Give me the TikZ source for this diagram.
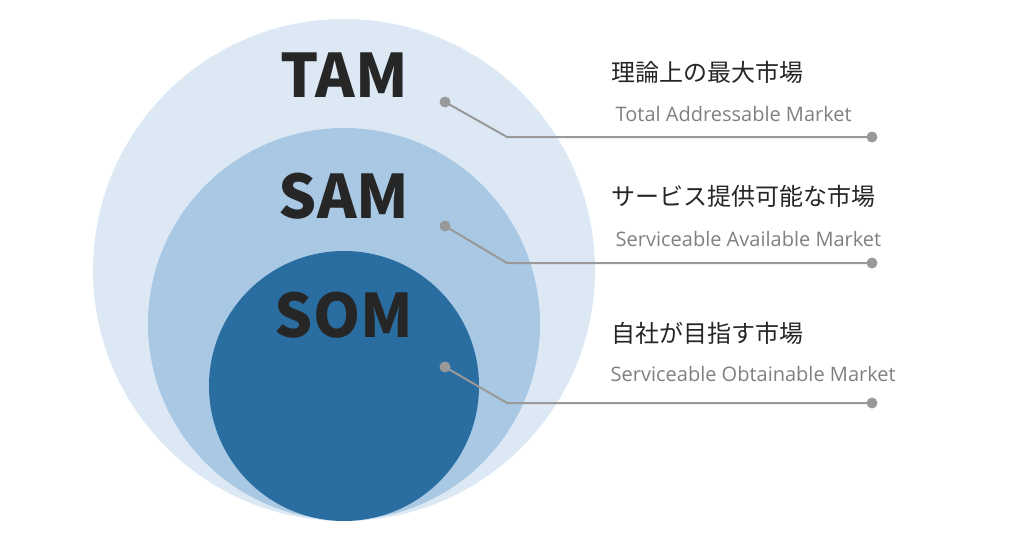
\documentclass[tikz,border=0pt]{standalone}
\usepackage{fontspec}
\setmainfont{Noto Sans CJK JP}
\newfontfamily\latinfont{Open Sans}
\definecolor{tamblue}{HTML}{DCE9F5}
\definecolor{samblue}{HTML}{A9C8E3}
\definecolor{somblue}{HTML}{2A6DA0}
\definecolor{darktext}{HTML}{262626}
\definecolor{leadgray}{HTML}{999999}
\tikzset{
	every picture/.style={line width=0.75pt},
	bigtitle/.style={font=\fontsize{60}{60}\selectfont\bfseries, text=darktext},
	jplabel/.style={font=\fontsize{24}{28}\selectfont, text=darktext, anchor=west},
	enlabel/.style={font=\latinfont\fontsize{20}{24}\selectfont, text=gray, anchor=west},
	leader/.style={draw=leadgray, line width=2pt},
	dot/.style={circle, fill=leadgray, inner sep=0pt, minimum size=11pt}}
\begin{document}
\begin{tikzpicture}[x=1pt,y=-1pt]
	\useasboundingbox (0,0) rectangle (1024,538);

	% circles
	\fill [tamblue] (344,270) circle (251);
	\fill [samblue] (344,324) circle (196);
	\fill [somblue] (344,386) circle (135);

	% titles
	\node [bigtitle] (tam) at (344,75) {TAM};
	\node [bigtitle] (sam) at (344,196) {SAM};
	\node [bigtitle] (som) at (344,315) {SOM};

	% leader lines
	\node [dot] (tamA) at (445,102) {};
	\coordinate (tamB) at (507,137);
	\node [dot] (tamC) at (872,137) {};
	\draw [leader] (tamA.center) -- (tamB) -- (tamC.center);

	\node [dot] (samA) at (445,226) {};
	\coordinate (samB) at (507,263);
	\node [dot] (samC) at (872,263) {};
	\draw [leader] (samA.center) -- (samB) -- (samC.center);

	\node [dot] (somA) at (445,367) {};
	\coordinate (somB) at (507,403);
	\node [dot] (somC) at (872,403) {};
	\draw [leader] (somA.center) -- (somB) -- (somC.center);

	% labels
	\node [jplabel] (tamjp) at (608,72) {理論上の最大市場};
	\node [enlabel] (tamen) at (612,114) {Total Addressable Market};
	\node [jplabel] (samjp) at (608,196) {サービス提供可能な市場};
	\node [enlabel] (samen) at (612,239) {Serviceable Available Market};
	\node [jplabel] (somjp) at (608,333) {自社が目指す市場};
	\node [enlabel] (somen) at (607,374) {Serviceable Obtainable Market};
\end{tikzpicture}
\end{document}
